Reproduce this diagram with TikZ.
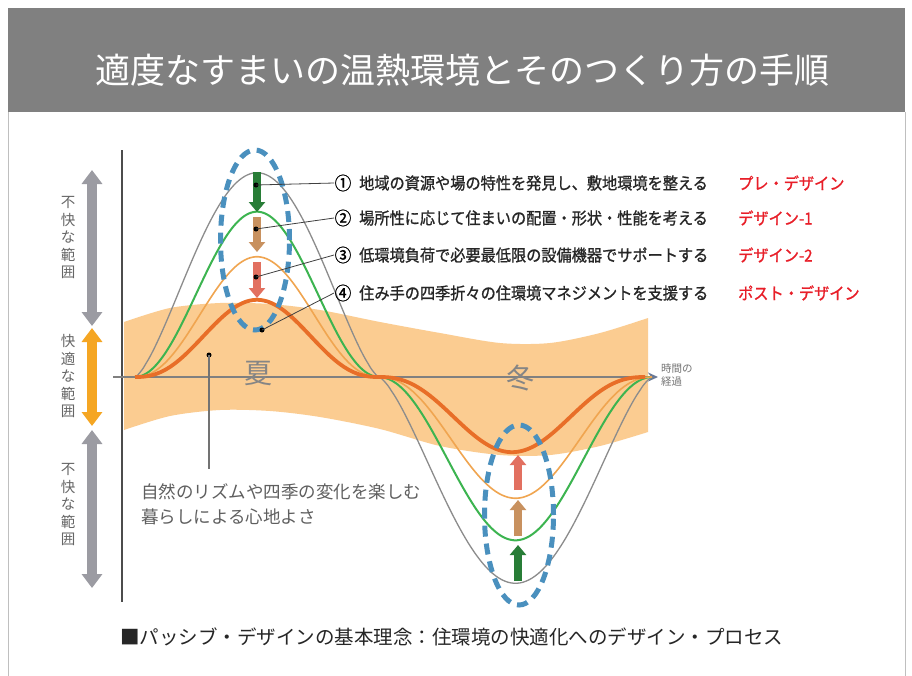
\documentclass[tikz,border=0pt]{standalone}
\usepackage{fontspec}
\setmainfont{Noto Sans CJK JP}
\newfontfamily\cond[FakeStretch=0.92,FakeBold=1]{Noto Sans CJK JP}
\usetikzlibrary{arrows.meta,shapes.geometric}
\definecolor{bandc}{RGB}{251,204,145}
\definecolor{titlegray}{RGB}{128,128,128}
\definecolor{cgray}{RGB}{140,140,140}
\definecolor{cgreen}{RGB}{60,180,80}
\definecolor{ctan}{RGB}{240,165,80}
\definecolor{corange}{RGB}{232,110,40}
\definecolor{ublue}{RGB}{74,144,190}
\definecolor{agreen}{RGB}{40,125,55}
\definecolor{abrown}{RGB}{200,145,95}
\definecolor{asalmon}{RGB}{226,112,96}
\definecolor{lblred}{RGB}{232,30,40}
\definecolor{barr}{RGB}{155,155,162}
\definecolor{oarr}{RGB}{245,166,35}
\definecolor{txtgray}{RGB}{95,95,95}
\definecolor{axisarrow}{RGB}{105,120,150}
\begin{document}
\begin{tikzpicture}[x=1pt,y=-1pt,
  curvebase/.style={line join=round},
  dashring/.style={ellipse, draw=ublue, line width=5pt, dash pattern=on 11pt off 7pt,
    minimum width=69pt, minimum height=180pt, inner sep=0pt},
  blockarrow/.style={line width=8pt, -{Triangle[width=16pt,length=10pt]}},
  dot/.style={circle, fill=black, inner sep=0pt, minimum size=5pt},
  conn/.style={draw=black!75, line width=0.8pt},
  numlbl/.style={font=\cond\fontsize{18}{18}\selectfont, inner sep=0.5pt},
  rowtxt/.style={font=\cond\fontsize{16.5}{18}\selectfont, anchor=west, inner sep=0pt, text=black!85},
  redlbl/.style={font=\cond\fontsize{16.5}{18}\selectfont, anchor=west, inner sep=0pt, text=lblred},
  sidelbl/.style={font=\fontsize{14.5}{17.5}\selectfont, align=center, text=black!60, inner sep=0pt},
  rangearrow/.style={line width=10pt, {Triangle[width=20pt,length=14pt]}-{Triangle[width=20pt,length=14pt]}},
  season/.style={font=\fontsize{28}{30}\selectfont, text=black!48}
]
\useasboundingbox (0,0) rectangle (912,675);
% frame and title
\fill[white] (0,0) rectangle (912,675);
\draw[black!25, line width=1pt] (8,112) -- (8,676) (905,112) -- (905,676);
\fill[titlegray] (8,8) rectangle (905,112);
\node[font=\fontsize{35}{40}\selectfont, text=white] (title) at (462,70) {適度なすまいの温熱環境とそのつくり方の手順};

% comfort band
\fill[bandc] plot[smooth] coordinates {(124,322) (170,308) (220,303) (270,304) (320,310) (380,322) (440,333) (500,343) (550,343) (600,333) (648,318)}
  -- (648,432)
  -- plot[smooth] coordinates {(648,432) (600,446) (550,455) (500,455) (440,446) (380,429) (320,417) (270,411) (220,410) (170,416) (124,430)}
  -- cycle;

% axes
\coordinate (ys) at (122,150);
\coordinate (ye) at (122,602);
\coordinate (xs) at (113,377);
\coordinate (xe) at (658,377);
\draw[black!70, line width=1.2pt] (ys) -- (ye);
\draw[black!50, line width=1.5pt, -{Stealth[length=10pt,width=9pt,color=axisarrow]}] (xs) -- (xe);

% side range arrows
\draw[rangearrow, barr] (92,170) -- (92,326);
\draw[rangearrow, oarr] (92,328) -- (92,426);
\draw[rangearrow, barr] (92,430) -- (92,588);
\node[sidelbl] (lu) at (68,238) {不\\快\\な\\範\\囲};
\node[sidelbl] (lm) at (68,376) {快\\適\\な\\範\\囲};
\node[sidelbl] (ll) at (68,505) {不\\快\\な\\範\\囲};

% curves
\draw[curvebase, cgray, line width=1.3pt]
  plot[domain=135:379, samples=90, smooth] (\x, {377-204*pow(abs(sin(0.737705*(\x-135)))+0.001,1.4)})
  -- plot[domain=379:652, samples=90, smooth] (\x, {377+206*pow(abs(sin(0.659341*(\x-379)))+0.001,1.4)});
\draw[curvebase, cgreen, line width=2pt]
  plot[domain=135:379, samples=90, smooth] (\x, {377-165*pow(abs(sin(0.737705*(\x-135)))+0.001,2.0)})
  -- plot[domain=379:652, samples=90, smooth] (\x, {377+163*pow(abs(sin(0.659341*(\x-379)))+0.001,2.0)});
\draw[curvebase, ctan, line width=1.6pt]
  plot[domain=135:379, samples=90, smooth] (\x, {377-120*pow(abs(sin(0.737705*(\x-135)))+0.001,2.2)})
  -- plot[domain=379:652, samples=90, smooth] (\x, {377+121*pow(abs(sin(0.659341*(\x-379)))+0.001,2.2)});
\draw[curvebase, corange, line width=3.8pt]
  plot[domain=135:379, samples=90, smooth] (\x, {377-77*pow(abs(sin(0.737705*(\x-135)))+0.001,2.45)})
  -- plot[domain=379:645, samples=90, smooth] (\x, {377+75*pow(abs(sin(0.676692*(\x-379)))+0.001,2.45)});

% season labels
\node[season] (summer) at (258,373) {夏};
\node[season] (winter) at (520,378) {冬};

% dashed rings
\node[dashring] (e1) at (255,240) {};
\node[dashring] (e2) at (519,515) {};

% block arrows
\draw[blockarrow, agreen] (257,172) -- (257,212);
\draw[blockarrow, abrown] (257,217) -- (257,252);
\draw[blockarrow, asalmon] (257,262) -- (257,298);
\draw[blockarrow, asalmon] (518,490) -- (518,455);
\draw[blockarrow, abrown] (518,536) -- (518,500);
\draw[blockarrow, agreen] (518,581) -- (518,545);

% numbered steps
\node[numlbl] (n1) at (343,183) {①};
\node[numlbl] (n2) at (343,218) {②};
\node[numlbl] (n3) at (343,255) {③};
\node[numlbl] (n4) at (343,293) {④};
\node[rowtxt] (t1) at (359,183) {地域の資源や場の特性を発見し、敷地環境を整える};
\node[rowtxt] (t2) at (359,218) {場所性に応じて住まいの配置・形状・性能を考える};
\node[rowtxt] (t3) at (359,255) {低環境負荷で必要最低限の設備機器でサポートする};
\node[rowtxt] (t4) at (359,293) {住み手の四季折々の住環境マネジメントを支援する};
\node[redlbl] (r1) at (738,183) {プレ・デザイン};
\node[redlbl] (r2) at (738,218) {デザイン-1};
\node[redlbl] (r3) at (738,255) {デザイン-2};
\node[redlbl] (r4) at (738,293) {ポスト・デザイン};

\node[dot] (d1) at (256,185) {};
\node[dot] (d2) at (256,229) {};
\node[dot] (d3) at (256,277) {};
\node[dot] (d4) at (262,330) {};
\draw[conn] (d1.center) -- (n1.west);
\draw[conn] (d2.center) -- (n2.west);
\draw[conn] (d3.center) -- (n3.west);
\draw[conn] (d4.center) -- (n4.west);

% annotation
\node[dot] (d5) at (209,355) {};
\coordinate (a5) at (209,469);
\draw[black!55, line width=1.5pt] (d5.center) -- (a5);
\node[anchor=west, align=left, font=\fontsize{17.5}{25}\selectfont, text=txtgray, inner sep=0pt] (ann) at (141,504)
  {自然のリズムや四季の変化を楽しむ\\暮らしによる心地よさ};

% time label
\node[anchor=west, align=left, font=\fontsize{10.5}{13}\selectfont, text=black!55, inner sep=0pt] (tl) at (661,375)
  {時間の\\経過};

% caption
\node[anchor=west, font=\fontsize{19.5}{22}\selectfont, text=black!85, inner sep=0pt] (cap) at (120,637)
  {■パッシブ・デザインの基本理念：住環境の快適化へのデザイン・プロセス};
\end{tikzpicture}
\end{document}
